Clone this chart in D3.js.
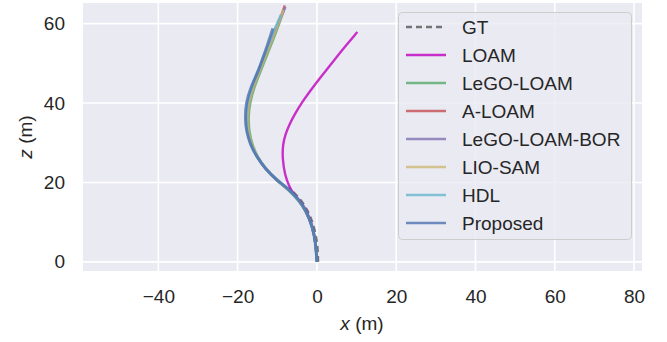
<!DOCTYPE html>
<html>
<head>
<meta charset="utf-8">
<script src="https://cdn.jsdelivr.net/npm/d3@7"></script>
<style>
  body { margin: 0; background: #fff; }
  svg text { font-family: "Liberation Sans", Arial, sans-serif; fill: #262626; }
</style>
</head>
<body>
<figure id="traj" style="margin:0"></figure>
<script>
// trajectories, [x, z] in metres
const gt = [[0.3,0],[0.2,4],[-0.5,8],[-1.8,12],[-3.6,15],[-5.6,17.3],[-7.2,18.6]]
const loam = [[0,0],[-0.3,4.7],[-1.0,8.9],[-2.6,13],[-4.4,15.5],[-6.0,17.3],[-6.9,18.8],[-8.1,21.9],
  [-8.7,26.1],[-8.6,29.5],[-8.0,32],[-7.0,34.5],[-5.7,37],[-3.9,40],[-1.8,42.9],[0.4,45.8],
  [4.1,50.5],[7.5,54.7],[10.2,57.9]]
const legoLoam = [[0,0],[-0.3,4.7],[-1.1,8.9],[-2.9,13],[-4.7,15.5],[-7.0,18],[-10.2,20.5],[-12.9,23.2],
  [-14.9,26.2],[-16.3,29.5],[-17.1,33],[-17.3,36.5],[-16.9,40],[-15.8,44],[-14.2,48],[-12.6,52],
  [-11.0,56],[-9.5,60],[-8.3,63.5]]
const aLoam = [[0,0],[-0.3,4.7],[-1.1,8.9],[-2.8,13],[-4.6,15.5],[-6.9,18],[-10.3,20.6],[-13.0,23.4],
  [-15.1,26.4],[-16.6,29.6],[-17.5,33],[-17.7,36.5],[-17.3,40],[-16.2,44],[-14.6,48],[-13.0,52],
  [-11.4,56],[-9.7,60],[-8.1,64.6]]
const legoLoamBor = [[0,0],[-0.3,4.7],[-1.1,8.9],[-2.8,13],[-4.6,15.5],[-6.9,18],[-10.4,20.7],[-13.1,23.5],
  [-15.2,26.5],[-16.7,29.6],[-17.6,33],[-17.8,36.5],[-17.4,40],[-16.3,44],[-14.7,48],[-13.1,52],
  [-11.5,56],[-9.8,60],[-7.9,64.2]]
const lioSam = [[0,0],[-0.3,4.7],[-1.1,8.9],[-2.8,13],[-4.6,15.5],[-6.8,18],[-10.1,20.6],[-12.9,23.4],
  [-15.0,26.4],[-16.5,29.6],[-17.4,33],[-17.6,36.5],[-17.2,40],[-16.1,44],[-14.5,48],[-12.9,52],
  [-11.3,56],[-9.7,60],[-8.4,63.5]]
const hdl = [[0,0],[-0.3,4.7],[-1.1,8.9],[-2.8,13],[-4.6,15.5],[-6.9,18],[-10.3,20.7],[-13.1,23.5],
  [-15.2,26.5],[-16.8,29.6],[-17.7,33],[-17.9,36.5],[-17.6,40],[-16.5,44],[-14.9,48],[-13.3,52],
  [-11.7,56],[-10.1,60],[-9.1,62.2]]
const proposed = [[0,0],[-0.3,4.7],[-1.1,8.9],[-2.8,13.1],[-4.5,15.6],[-6.8,18.1],[-10.2,20.7],[-13.0,23.5],
  [-15.2,26.5],[-16.8,29.5],[-17.8,33],[-18.1,36],[-17.9,40],[-16.7,44],[-14.8,48],[-13.6,51.5],
  [-12.5,54.5],[-11.1,58.8]]

const seriesNames = ["GT", "LOAM", "LeGO-LOAM", "A-LOAM", "LeGO-LOAM-BOR", "LIO-SAM", "HDL", "Proposed"]
const seriesData = [gt, loam, legoLoam, aLoam, legoLoamBor, lioSam, hdl, proposed]
const seriesColors = ["#555555", "#BF00BF", "#55A868", "#C44E52", "#8172B2", "#CCB974", "#64B5CD", "#4C72B0"]

const xTicks = [-40, -20, 0, 20, 40, 60, 80]
const zTicks = [0, 20, 40, 60]
const xDomain = [-59, 82]
const zDomain = [-2.3, 65.2]

const W = 667, H = 342
const margin = {top: 3, right: 25, bottom: 71, left: 83}
const width = W - margin.left - margin.right
const height = H - margin.top - margin.bottom

const svg = d3.select("figure#traj").append("svg")
  .attr("width", W)
  .attr("height", H)

const g = svg.append("g")
  .attr("transform", `translate(${margin.left},${margin.top})`)

const x = d3.scaleLinear().domain(xDomain).range([0, width])
const y = d3.scaleLinear().domain(zDomain).range([height, 0])

g.append("rect")
  .attr("width", width)
  .attr("height", height)
  .attr("fill", "#EAEAF2")

// grid
g.append("g").selectAll("line").data(xTicks).join("line")
  .attr("x1", d => x(d)).attr("x2", d => x(d))
  .attr("y1", 0).attr("y2", height)
  .attr("stroke", "#fff").attr("stroke-width", 1.6)
g.append("g").selectAll("line").data(zTicks).join("line")
  .attr("y1", d => y(d)).attr("y2", d => y(d))
  .attr("x1", 0).attr("x2", width)
  .attr("stroke", "#fff").attr("stroke-width", 1.6)

// axes, no tick marks
const xAxis = g.append("g")
  .attr("transform", `translate(0, ${height})`)
  .call(d3.axisBottom(x).tickValues(xTicks).tickSize(0).tickPadding(19).tickFormat(d => d3.format("d")(d).replace("-", "\u2212")))
const yAxis = g.append("g")
  .call(d3.axisLeft(y).tickValues(zTicks).tickSize(0).tickPadding(18))
;[xAxis, yAxis].forEach(a => {
  a.select(".domain").remove()
  a.selectAll("text")
    .style("font-size", "19px")
    .style("font-family", '"Liberation Sans", Arial, sans-serif')
    .attr("fill", "#262626")
})

// lines
const line = d3.line()
  .x(d => x(d[0]))
  .y(d => y(d[1]))
  .curve(d3.curveBasis)

seriesData.forEach((d, i) => {
  g.append("path")
    .datum(d)
    .attr("fill", "none")
    .attr("stroke", seriesColors[i])
    .attr("stroke-width", i === 7 ? 3 : 2.4)
    .attr("stroke-opacity", 0.8)
    .attr("stroke-dasharray", i === 0 ? "6,4" : null)
    .attr("d", line)
})

// axis labels
const xl = svg.append("text")
  .attr("x", 362)
  .attr("y", 330)
  .attr("text-anchor", "middle")
  .style("font-size", "19px")
xl.append("tspan").style("font-style", "italic").text("x")
xl.append("tspan").text(" (m)")

const zl = svg.append("text")
  .attr("transform", "translate(32, 137) rotate(-90)")
  .attr("text-anchor", "middle")
  .style("font-size", "19px")
zl.append("tspan").style("font-style", "italic").text("z")
zl.append("tspan").text(" (m)")

// legend
const leg = svg.append("g")
leg.append("rect")
  .attr("x", 398.5).attr("y", 12.5)
  .attr("width", 233).attr("height", 227)
  .attr("rx", 4)
  .attr("fill", "#EAEAF2").attr("fill-opacity", 0.8)
  .attr("stroke", "#CCCCCC")

seriesNames.forEach((name, i) => {
  const cy = 27 + i * 28
  leg.append("line")
    .attr("x1", 406).attr("x2", 446)
    .attr("y1", cy).attr("y2", cy)
    .attr("stroke", seriesColors[i])
    .attr("stroke-opacity", 0.8)
    .attr("stroke-width", 2.4)
    .attr("stroke-dasharray", i === 0 ? "6,4" : null)
  leg.append("text")
    .attr("x", 462).attr("y", cy + 7)
    .style("font-size", "19px")
    .text(name)
})
</script>
</body>
</html>
